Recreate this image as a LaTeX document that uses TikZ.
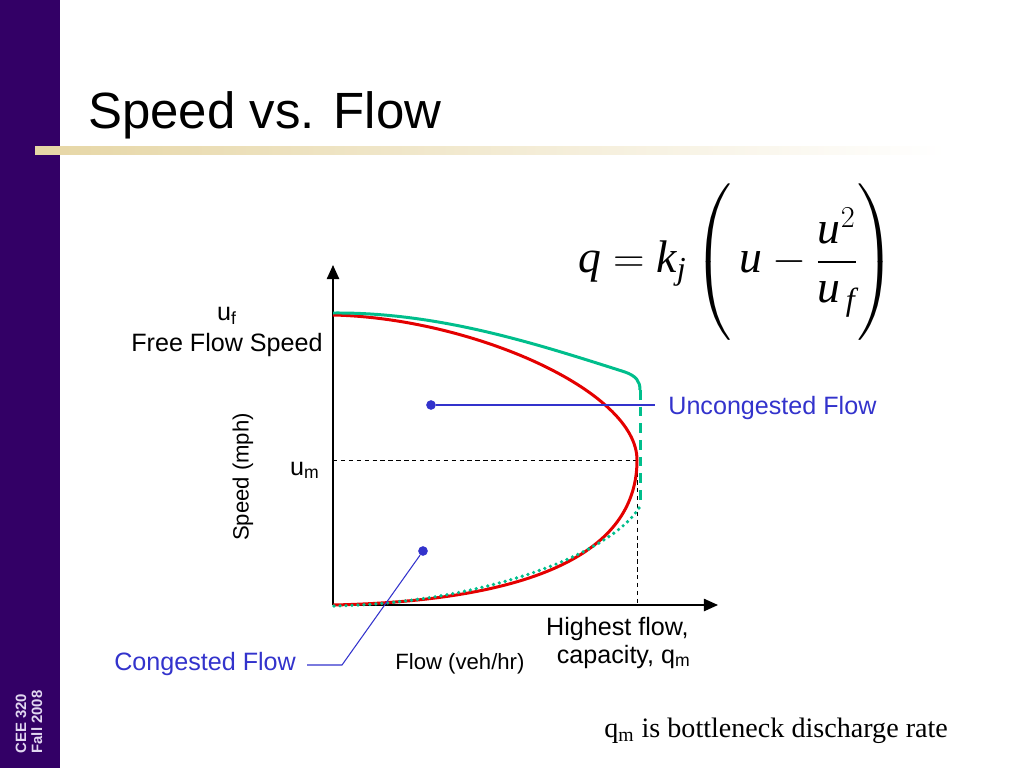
\documentclass[tikz,border=0pt]{standalone}
\usepackage{amsmath}
\usepackage{fontspec}
\setmainfont{Liberation Sans}
\newfontfamily\tms{Liberation Serif}
\usetikzlibrary{arrows.meta}
\definecolor{sidebar}{RGB}{51,0,102}
\definecolor{bartan}{RGB}{230,214,165}
\definecolor{curvered}{RGB}{228,0,0}
\definecolor{curvegreen}{RGB}{0,190,140}
\definecolor{leadblue}{RGB}{51,51,204}
\definecolor{sidetext}{RGB}{225,215,240}
\newcommand\vi[1]{\text{\tms\itshape #1}}
\begin{document}
\begin{tikzpicture}[x=0.02cm,y=-0.02cm,
lab/.style={font=\fontsize{14.3}{17}\selectfont,inner sep=0pt},
axlab/.style={font=\fontsize{12.6}{15}\selectfont,inner sep=0pt},
lead/.style={leadblue,line width=0.6pt},
blob/.style={circle,fill=leadblue,inner sep=0pt,minimum size=5.5pt},
axis/.style={line width=0.9pt,-{Triangle[length=8pt,width=7pt]}},
guide/.style={line width=0.5pt,dash pattern=on 2.5pt off 2pt},
curve/.style={line width=1.7pt}]
\useasboundingbox(0,0)rectangle(1024,768);
% slide frame
\fill[sidebar](0,0)rectangle(60,768);
\shade[left color=bartan,middle color=bartan!60,right color=white](35,146)rectangle(945,154);
\node[anchor=base west,font=\fontsize{29}{34}\selectfont,inner sep=0pt](title)at(88,128){Speed vs. Flow};
\node[rotate=90,align=left,font=\bfseries\fontsize{8.5}{9.2}\selectfont,text=sidetext,inner sep=0pt](course)at(29,722){CEE 320\\Fall 2008};
% axes
\coordinate(o)at(333,605);\coordinate(ytip)at(333,265);\coordinate(xtip)at(718,605);
\coordinate(umax)at(637,460);
\draw[guide](o|-umax)--(umax)--(umax|-o);
\draw[axis](o)--(ytip);
\draw[axis](o)--(xtip);
% curves
\draw[curve,curvered](333,315)..controls(470,318)and(637,390)..(637,460)
..controls(637,540)and(560,600)..(333,605);
\draw[curve,curvegreen](333,313)..controls(440,312)and(540,345)..(625,372)
..controls(636,376)and(640,381)..(640,390);
\draw[curve,curvegreen,dash pattern=on 5.5pt off 4pt](640,390)--(640,505);
\draw[curvegreen,line width=2.1pt,line cap=round,dash pattern=on 0pt off 3.4pt](639,508)..controls(608,556)and(480,603)..(333,606);
% labels
\node[lab,anchor=base](uf)at(227,320){u\textsubscript{f}};
\node[lab,anchor=base](ffs)at(227,351){Free Flow Speed};
\node[lab,anchor=base east](um)at(320,475){u\textsubscript{m}};
\node[axlab,rotate=90](ylab)at(243,477){Speed (mph)};
\node[axlab,anchor=base west](xlab)at(395,669){Flow (veh/hr)};
\node[lab,anchor=base east](hf)at(689,635){Highest flow,};
\node[lab,anchor=base east](cap)at(691,663){capacity, q\textsubscript{m}};
\node[lab,text=leadblue,anchor=base west](unc)at(668,414){Uncongested Flow};
\node[lab,text=leadblue,anchor=base west](cong)at(114,670){Congested Flow};
\node[blob](udot)at(431,405){};
\node[blob](cdot)at(423,551){};
\coordinate(uend)at(655,405);\coordinate(ckink)at(342,665);\coordinate(cend)at(307,665);
\draw[lead](udot)--(uend);
\draw[lead](cdot)--(ckink)--(cend);
% formula and note
\node[font=\fontsize{26}{30}\selectfont,inner sep=0pt](eq)at(737,262){$\displaystyle \vi{q}=\vi{k}_{\vi{j}}\left(\rule[-38pt]{0pt}{88pt}\,\vi{u}-\frac{\vi{u}^{2}}{\vi{u}_{\,\vi{f}}}\right)$};
\node[anchor=base west,font=\tms\fontsize{16}{19}\selectfont,inner sep=0pt](note)at(604,737){q\textsubscript{m} is bottleneck discharge rate};
\end{tikzpicture}
\end{document}
